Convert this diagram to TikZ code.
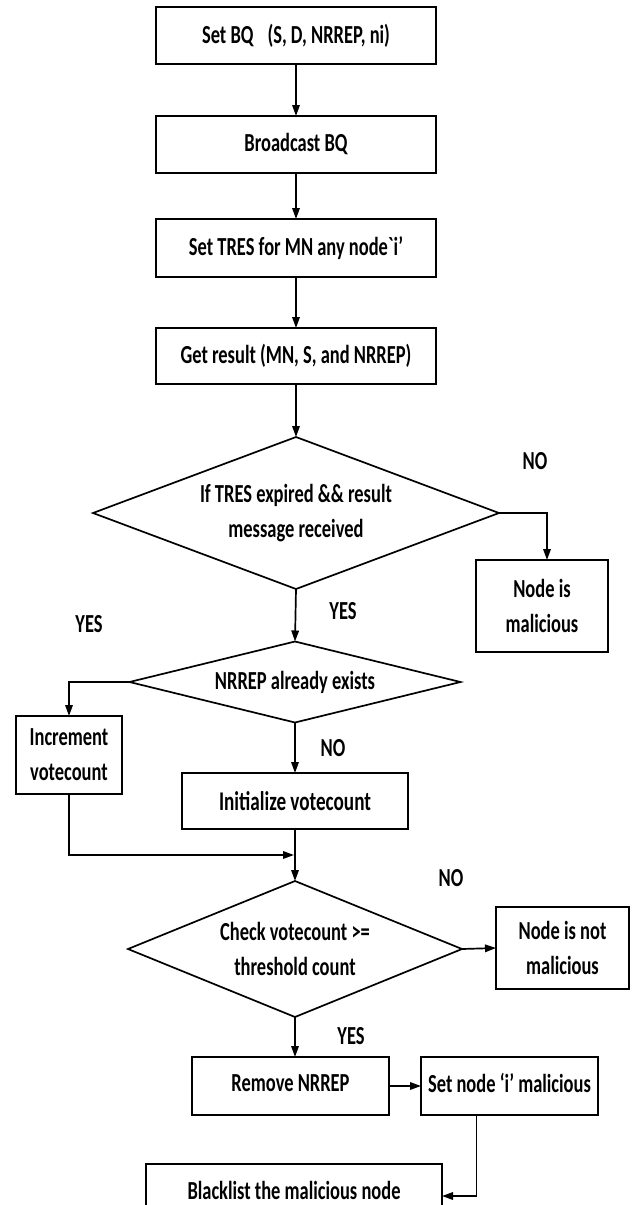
\documentclass[tikz,border=0pt]{standalone}
\usepackage{fontspec}
\newfontfamily\cfont{Carlito}[FakeStretch=0.71]
\usetikzlibrary{shapes.geometric,arrows.meta}
\begin{document}
\begin{tikzpicture}[x=1pt,y=-1pt,
  every node/.style={font=\cfont\bfseries\fontsize{26}{35}\selectfont, inner sep=0pt, outer sep=0pt, align=center},
  box/.style={draw, line width=1.8pt, rectangle},
  dia/.style={draw, line width=1.7pt, diamond},
  arr/.style={line width=1.7pt, -{Triangle[length=11pt,width=7.5pt]}}]
\useasboundingbox (0,0) rectangle (636,1205);
\clip (0,0) rectangle (636,1205);
\fill[white] (0,0) rectangle (636,1205);

% main column boxes
\node[box, minimum width=280pt, minimum height=57pt] (b1) at (296,35.5) {Set BQ\hspace{14pt}(S, D, NRREP, ni)};
\node[box, minimum width=280pt, minimum height=57pt] (b2) at (296,144.5) {Broadcast BQ};
\node[box, minimum width=280pt, minimum height=58pt] (b3) at (296,248) {Set TRES for MN any node`i’};
\node[box, minimum width=280pt, minimum height=56pt] (b4) at (296,356) {Get result (MN, S, and NRREP)};

% decisions
\node[dia, minimum width=406pt, minimum height=152pt, aspect=2.67] (d1) at (296,513) {If TRES expired \&\& result\\message received};
\node[box, minimum width=132pt, minimum height=92pt] (mal) at (542,606) {Node is\\malicious};

\node[dia, minimum width=331pt, minimum height=81pt, aspect=4.1] (d2) at (295,682) {NRREP already exists};
\node[box, minimum width=106pt, minimum height=78pt] (inc) at (69,755) {Increment\\votecount};
\node[box, minimum width=226pt, minimum height=56pt, font=\cfont\bfseries\fontsize{27}{35}\selectfont] (init) at (295,801) {Initialize votecount};

\coordinate (join) at (295,855);

\node[dia, minimum width=334pt, minimum height=136pt, aspect=2.45] (d3) at (295,949) {Check votecount >=\\threshold count};
\node[box, minimum width=133pt, minimum height=82pt] (nm) at (562.5,948) {Node is not\\malicious};

\node[box, minimum width=197pt, minimum height=58pt] (rem) at (290.5,1086) {\raisebox{6pt}{Remove NRREP}};
\node[box, minimum width=177pt, minimum height=58pt] (sn) at (509.5,1086) {\raisebox{6pt}{Set node ‘i’ malicious}};
\node[box, minimum width=296pt, minimum height=60pt] (bl) at (294,1194) {\raisebox{8pt}{Blacklist the malicious node}};

% labels
\node (no1) at (535,461) {NO};
\node (yes1) at (343,611) {YES};
\node (yes2) at (89,624) {YES};
\node (no2) at (333,748) {NO};
\node (no3) at (451,878) {NO};
\node (yes3) at (351,1036) {YES};

% connectors
\draw[arr] (b1.south) -- (b2.north);
\draw[arr] (b2.south) -- (b3.north);
\draw[arr] (b3.south) -- (b4.north);
\draw[arr] (b4.south) -- (d1.north);
\draw[arr] (d1.east) -| ([xshift=5pt]mal.north);
\draw[arr] (d1.south) -- (d2.north);
\draw[arr] (d2.west) -| (inc.north);
\draw[arr] (d2.south) -- (init.north);
\draw[arr] (inc.south) |- ([xshift=-1pt]join);
\draw[arr] (init.south) -- (d3.north);
\draw[arr] (d3.east) -- (nm.west);
\draw[arr] (d3.south) -- (d3.south |- rem.north);
\draw[arr] (rem.east) -- (sn.west);
\draw[arr] ([xshift=-33pt]sn.south) |- ([yshift=-2pt]bl.east);
\end{tikzpicture}
\end{document}
